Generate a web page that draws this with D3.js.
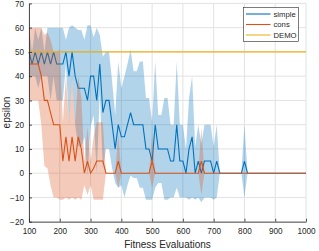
<!DOCTYPE html>
<html><head><meta charset="utf-8">
<script src="https://cdn.jsdelivr.net/npm/d3@7"></script>
<style>html,body{margin:0;padding:0;background:#fff;}svg{display:block;}</style>
</head><body>
<script>
// ---------- data ----------
const evals = [100,110,120,130,140,150,160,170,180,190,200,210,220,230,240,250,260,270,280,290,
  300,310,320,330,340,350,360,370,380,390,400,410,420,430,440,450,460,470,480,490,
  500,510,520,530,540,550,560,570,580,590,600,610,620,630,640,650,660,670,680,690,
  700,710,720,730,740,750,760,770,780,790,800,810,820,830,840,850,860,870,880,890,
  900,910,920,930,940,950,960,970,980,990,1000];
const simpleMean = [50,45,50,45,50,45,50,45,50,45, 45,45,50,40,50,40,35,35,35,30,
  40,40,30,45,25,30,30,20,10,20, 15,15,20,25,20,20,20,20,10,10,
  5,20,10,10,10,10,5,5,20,5, 5,0,10,15,0,5,0,5,5,5,
  0,5,0,0,0,0,0,0,0,0, 5,0,0,0,0,0,0,0,0,0, 0,0,0,0,0,0,0,0,0,0, 0];
const simpleStd = [10,5,10,10,10,5,10,15,10,15, 15,15,5,20,11,20,24,24,20,31,
  21,16,30,12,23,20,20,18,14,26, 20,25,25,26,22,22,26,26,21,21,
  16,26,14,14,21,21,15,15,26,15, 15,10,21,25,11,15,12,15,15,15,
  11,15,0,0,0,0,0,0,0,0, 15,0,0,0,0,0,0,0,0,0, 0,0,0,0,0,0,0,0,0,0, 0];
const consMean = [45,45,45,45,40,30,30,25,20,20, 20,5,15,5,15,5,15,10,0,5,
  0,2,5,5,5,0,0,0,0,5, 0,0,0,0,0,0,0,0,0,0,
  5,0,0,0,0,0,0,0,0,0, 0,0,0,0,0,0,5,0,0,0,
  0,0,0,0,0,0,0,0,0,0, 0,0,0,0,0,0,0,0,0,0, 0,0,0,0,0,0,0,0,0,0, 0];
const consStd = [15,15,15,15,20,27,28,30,30,30, 31,16,25,16,25,16,25,21,5,14,
  5,13,16,16,16,0,0,0,0,11, 0,0,0,0,0,0,0,0,0,0,
  11,0,0,0,0,0,0,0,0,0, 0,0,0,0,0,0,14,0,0,0,
  0,0,0,0,0,0,0,0,0,0, 0,0,0,0,0,0,0,0,0,0, 0,0,0,0,0,0,0,0,0,0, 0];
const demoValue = 50;
const xTicks = [100,200,300,400,500,600,700,800,900,1000];
const yTicks = [-20,-10,0,10,20,30,40,50,60,70];
const seriesNames = ["simple","cons","DEMO"];
const colors = {simple:"#0072BD", cons:"#D95319", DEMO:"#EDB120"};

// ---------- chart ----------
const W = 319, H = 251;
const svg = d3.select("body").append("svg").attr("width", W).attr("height", H)
  .style("font-family", "'Liberation Sans', Arial, Helvetica, sans-serif");
const x = d3.scaleLinear().domain([100, 1000]).range([29, 306]);
const y = d3.scaleLinear().domain([-20, 70]).range([221.7, 3.4]);
const txt = "#262626";

// grid
const g = svg.append("g");
g.selectAll(".gx").data(xTicks).join("line")
  .attr("x1", d => x(d)).attr("x2", d => x(d)).attr("y1", y(-20)).attr("y2", y(70))
  .attr("stroke", "#e2e2e2").attr("stroke-width", 1);
g.selectAll(".gy").data(yTicks).join("line")
  .attr("x1", x(100)).attr("x2", x(1000)).attr("y1", d => y(d)).attr("y2", d => y(d))
  .attr("stroke", "#e2e2e2").attr("stroke-width", 1);

const rows = (m, s) => evals.map((e, i) => ({x: e, m: m[i], s: s[i]}));
const simple = rows(simpleMean, simpleStd);
const cons = rows(consMean, consStd);
const area = d3.area().x(d => x(d.x)).y0(d => y(d.m - d.s)).y1(d => y(d.m + d.s));
const line = d3.line().x(d => x(d.x)).y(d => y(d.m));

svg.append("path").datum(simple).attr("d", area).attr("fill", colors.simple).attr("fill-opacity", 0.3);
svg.append("path").datum(simple).attr("d", line).attr("fill", "none").attr("stroke", colors.simple).attr("stroke-width", 1.1);
svg.append("path").datum(cons).attr("d", area).attr("fill", colors.cons).attr("fill-opacity", 0.3);
svg.append("path").datum(cons).attr("d", line).attr("fill", "none").attr("stroke", colors.cons).attr("stroke-width", 1.1);
svg.append("line").attr("x1", x(100)).attr("x2", x(1000)).attr("y1", y(demoValue)).attr("y2", y(demoValue))
  .attr("stroke", colors.DEMO).attr("stroke-width", 1.1);

// axes
const xAxis = d3.axisBottom(x).tickValues(xTicks).tickFormat(d3.format("d")).tickSizeInner(-3).tickSizeOuter(0).tickPadding(6);
const yAxis = d3.axisLeft(y).tickValues(yTicks).tickFormat(d3.format("d")).tickSizeInner(-3).tickSizeOuter(0).tickPadding(5);
const ax = svg.append("g").attr("transform", `translate(0,${y(-20)})`).call(xAxis);
const ay = svg.append("g").attr("transform", `translate(${x(100)},0)`).call(yAxis);
[ax, ay].forEach(a => {
  a.select(".domain").attr("stroke", txt).attr("stroke-width", 0.8);
  a.selectAll(".tick line").attr("stroke", txt).attr("stroke-width", 0.8);
  a.selectAll("text").attr("fill", txt).style("font-size", "8.2px").style("font-family", "'Liberation Sans', Arial, sans-serif");
});

svg.append("text").attr("x", (x(100) + x(1000)) / 2).attr("y", 247.5).attr("text-anchor", "middle")
  .attr("fill", txt).style("font-size", "10px").text("Fitness Evaluations");
svg.append("text").attr("transform", `translate(10,${(y(-20) + y(70)) / 2}) rotate(-90)`)
  .attr("text-anchor", "middle").attr("fill", txt).style("font-size", "10px").text("epsilon");

// legend
const lg = svg.append("g");
lg.append("rect").attr("x", 243.5).attr("y", 7.5).attr("width", 55).attr("height", 34)
  .attr("fill", "#fff").attr("stroke", "#262626").attr("stroke-width", 0.6);
seriesNames.forEach((n, i) => {
  const yy = 14 + i * 10.5;
  lg.append("line").attr("x1", 246).attr("x2", 270.5).attr("y1", yy).attr("y2", yy)
    .attr("stroke", colors[n]).attr("stroke-width", 1.1);
  lg.append("text").attr("x", 273.5).attr("y", yy + 2.7).attr("fill", txt)
    .style("font-size", "7.7px").text(n);
});
</script>
</body></html>
